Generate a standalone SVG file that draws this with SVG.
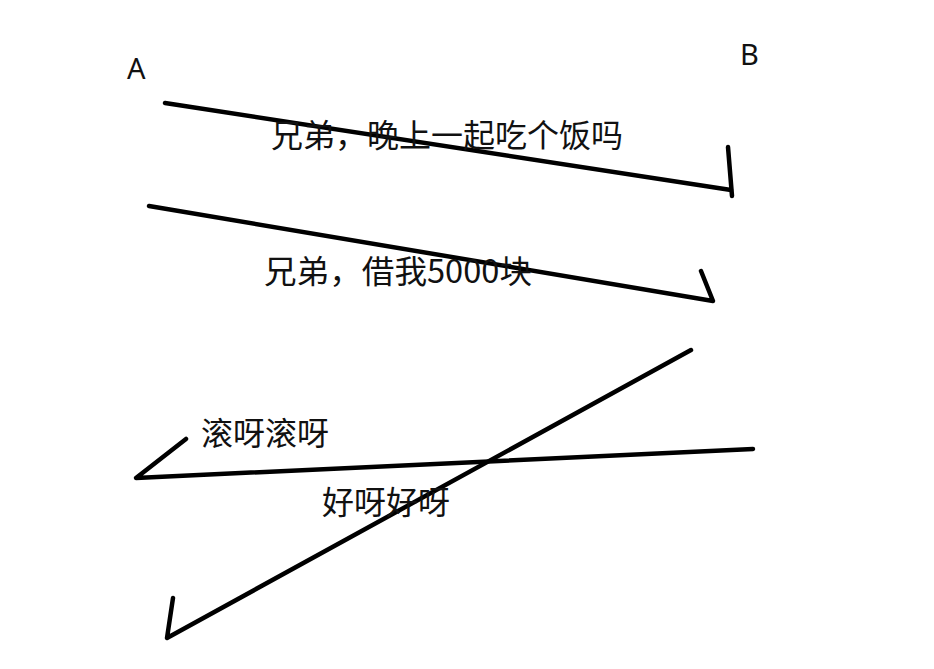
<svg xmlns="http://www.w3.org/2000/svg" width="934" height="669" viewBox="0 0 934 669">
<style>
.t{font-family:"Noto Sans CJK SC","Noto Sans",sans-serif;font-size:32px;fill:#111}
.lbl{font-family:"Noto Sans","Liberation Sans",sans-serif;font-size:29px;fill:#111}
.s{stroke:#000;stroke-width:4.5;stroke-linecap:round;stroke-linejoin:round;fill:none}
</style>
<rect width="934" height="669" fill="#fff"/>
<g id="nodeA"><text class="lbl" x="127" y="79">A</text></g>
<g id="nodeB"><text class="lbl" x="740" y="65">B</text></g>
<g id="connectors">
<path class="s" d="M165,103 L731,190"/>
<path class="s" d="M728,147 L732,196"/>
<path class="s" d="M149,206 L713,301 L701,271"/>
<path class="s" d="M753,449 L136,478 L186,439"/>
<path class="s" d="M691,350 L167,638 L173,598"/>
</g>
<g id="labels">
<text class="t" x="271" y="147" textLength="352" lengthAdjust="spacingAndGlyphs">兄弟，晚上一起吃个饭吗</text>
<text class="t" x="264" y="283" textLength="268" lengthAdjust="spacingAndGlyphs">兄弟，借我5000块</text>
<text class="t" x="201" y="445" textLength="128" lengthAdjust="spacingAndGlyphs">滚呀滚呀</text>
<text class="t" x="322" y="514" textLength="128" lengthAdjust="spacingAndGlyphs">好呀好呀</text>
</g>
</svg>
